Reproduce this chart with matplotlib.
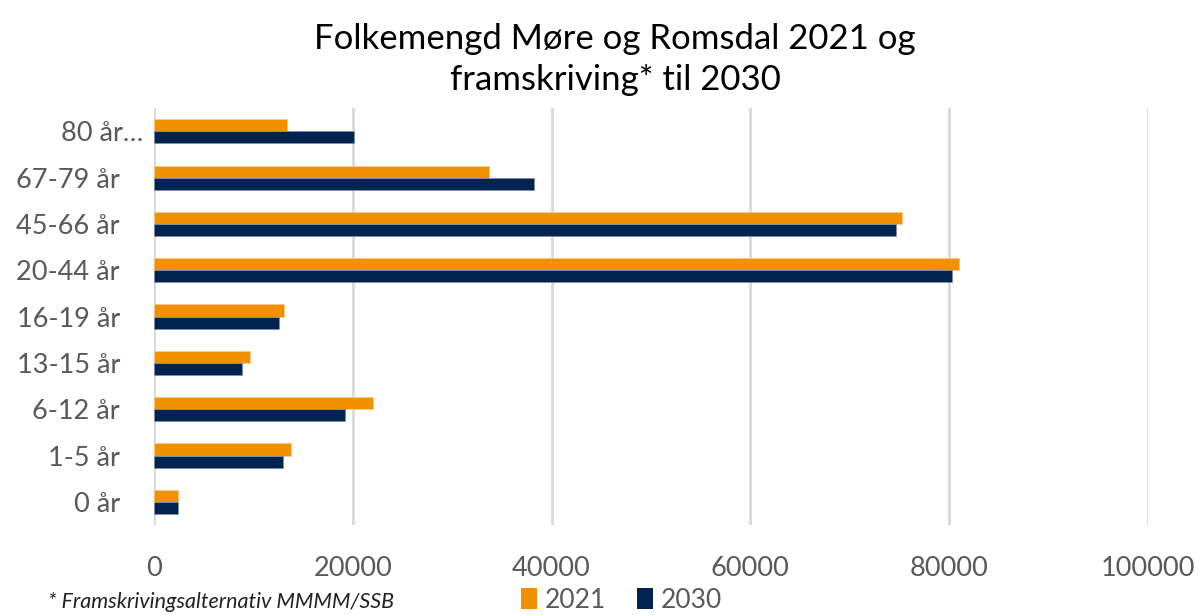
import matplotlib
matplotlib.use("Agg")
import matplotlib.pyplot as plt
import matplotlib.transforms as mtransforms
import numpy as np
from matplotlib.patches import Patch

categories = ["0 år", "1-5 år", "6-12 år", "13-15 år", "16-19 år", "20-44 år", "45-66 år", "67-79 år", "80 år…"]
v2021 = [2400, 13800, 22000, 9700, 13100, 81000, 75300, 33700, 13400]
v2030 = [2450, 13000, 19200, 8900, 12600, 80300, 74700, 38200, 20100]
xticks = [0, 20000, 40000, 60000, 80000, 100000]

plt.rcParams['font.family'] = ['Lato', 'DejaVu Sans']
c21 = "#F29100"
c30 = "#00234F"
grey = "#595959"

fig = plt.figure(figsize=(12, 6.15), dpi=100)
ax = fig.add_axes([0.1283, 0.1463, 0.8283, 0.678])
y = np.arange(len(categories))
h = 0.26
ax.barh(y + h/2, v2021, height=h, color=c21, edgecolor="#F8C98A", linewidth=0.6, zorder=3)
ax.barh(y - h/2, v2030, height=h, color=c30, edgecolor="#7F91A7", linewidth=0.6, zorder=3)
ax.set_xlim(0, 100000)
ax.set_ylim(-0.5, 8.5)
ax.set_xticks(xticks)
ax.set_xticklabels([str(t) for t in xticks])
ax.set_yticks(y)
ax.set_yticklabels(categories)
ax.tick_params(axis='both', length=0, labelsize=19.5, colors=grey)
ax.tick_params(axis='y', pad=24.5)
ax.tick_params(axis='x', pad=22)
ax.grid(axis='x', color="#D9D9D9", linewidth=2, zorder=0)
for s in ax.spines.values():
    s.set_visible(False)

# the truncated last label sits closer to the axis in the reference
lbl = ax.get_yticklabels()[-1]
lbl.set_transform(lbl.get_transform() + mtransforms.ScaledTranslation(23/100, 0, fig.dpi_scale_trans))

fig.text(0.5125, 0.937, "Folkemengd Møre og Romsdal 2021 og", ha='center', va='center', fontsize=25, color="#000000")
fig.text(0.5125, 0.870, "framskriving* til 2030", ha='center', va='center', fontsize=25, color="#000000")
fig.text(0.040, 0.021, "* Framskrivingsalternativ MMMM/SSB", ha='left', va='center', fontsize=15.5, style='italic', color="#222222")

handles = [Patch(facecolor=c21, label="2021"), Patch(facecolor=c30, label="2030")]
fig.legend(handles=handles, loc='center', bbox_to_anchor=(0.518, 0.024), ncol=2, frameon=False,
           fontsize=19, labelcolor=grey, handlelength=0.6, handleheight=0.8, handletextpad=0.3, columnspacing=1.2,
           borderpad=0.1)

fig.savefig("out.png", dpi=100)
